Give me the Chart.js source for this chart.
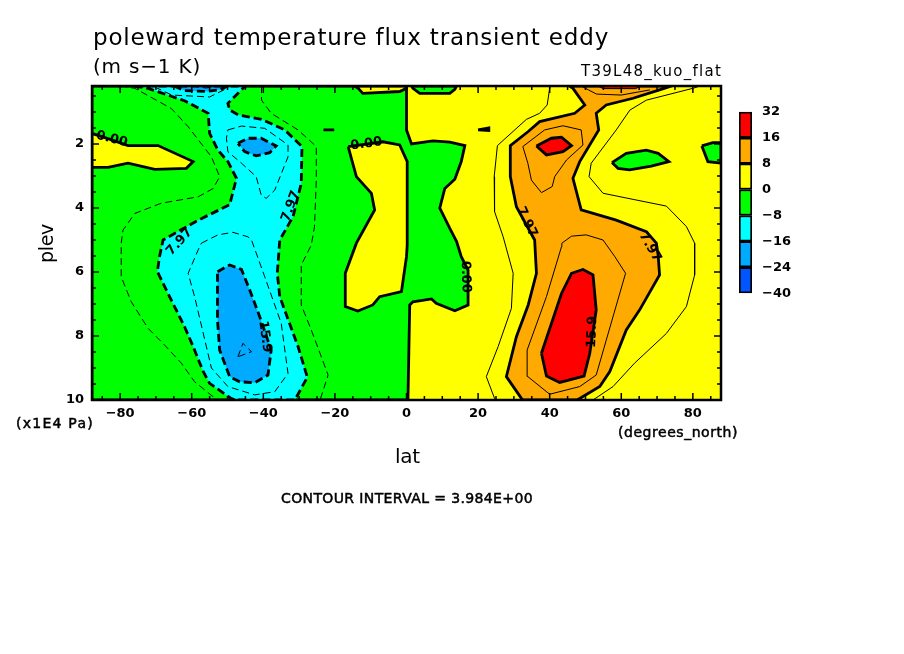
<!DOCTYPE html>
<html>
<head>
<meta charset="utf-8">
<title>poleward temperature flux transient eddy</title>
<script src="https://cdn.jsdelivr.net/npm/chart.js@4"></script>
<style>
    html, body { margin: 0; padding: 0; background: #fff; }
    #wrap { position: relative; width: 904px; height: 654px; overflow: hidden; }
    #mainChart { position: absolute; left: 0; top: 0; }
    #barChart { position: absolute; left: 730px; top: 94px; }
</style>
</head>
<body>
<div id="wrap">
    <canvas id="mainChart" width="904" height="654"></canvas>
    <canvas id="barChart" width="70" height="217"></canvas>
</div>
<script>
const latTicks = [-80, -60, -40, -20, 0, 20, 40, 60, 80];
const latMinor = [-85, -75, -70, -65, -55, -50, -45, -35, -30, -25, -15, -10, -5, 5, 10, 15, 25, 30, 35, 45, 50, 55, 65, 70, 75, 85];
const plevTicks = [2, 4, 6, 8, 10];
const plevMinor = [0.5, 1, 1.5, 2.5, 3, 3.5, 4.5, 5, 5.5, 6.5, 7, 7.5, 8.5, 9, 9.5];

const cbarLevels = [-40, -24, -16, -8, 0, 8, 16, 32];
const cbarColors = ['#0055ff', '#00aaff', '#00ffff', '#00ff00', '#ffff00', '#ffaa00', '#ff0000'];

// contours as [lat, plev]
const wholePlot = [[-87.86, 0.1875], [87.86, 0.1875], [87.86, 10], [-87.86, 10], [-87.86, 0.1875]];

const greenMain = [[0, 0.1875], [0, 1.56], [1.4, 2], [7.4, 1.9], [12.1, 1.94], [16.3, 2.05], [15.3, 2.55], [13.5, 3.1],
    [10.7, 3.39], [9.3, 4], [12.1, 4.64], [14, 5.05], [15.3, 5.52], [17.2, 5.94], [17.2, 7.03], [13.5, 7.21], [8.3, 6.98],
    [7, 6.84], [1.8, 6.93], [0.9, 7.03], [0.4, 10], [-87.86, 10], [-87.86, 0.1875], [0, 0.1875]];
const yellowLeft = [[-87.86, 1.67], [-83, 1.85], [-77.8, 2.05], [-69.4, 2.05], [-59.6, 2.55], [-61.5, 2.76], [-70.3, 2.79],
    [-77.8, 2.6], [-83.4, 2.73], [-87.86, 2.73], [-87.86, 1.67]];
const yellowIsland = [[-16.3, 2.08], [-6.6, 1.93], [-1.9, 2.03], [0.2, 2.55], [0.2, 5.16], [0, 5.52], [-1.4, 6.61], [-7.5, 6.77],
    [-9.4, 7.03], [-13.6, 7.22], [-17.1, 7.08], [-17.1, 6.04], [-14, 5.1], [-8.9, 4.06], [-9.8, 3.54], [-14, 3.02], [-16.3, 2.08]];
const yellowTop = [[-14.5, 0.1875], [-13.5, 0.26], [-12.2, 0.42], [-1.9, 0.36], [0, 0.26], [0, 0.1875], [-14.5, 0.1875]];
const yellowBlip = [[-23.2, 1.56], [-20.2, 1.56], [-23.2, 1.56]];

const dashLeft = [[-80, 0.1875], [-75.9, 0.26], [-65.7, 0.89], [-61, 1.46], [-54.5, 2.4], [-52.2, 3.02], [-54, 3.39], [-58.2, 3.65],
    [-68.5, 3.85], [-75.9, 4.17], [-79.2, 4.69], [-79.7, 5.1], [-79.7, 6.15], [-76.9, 6.93], [-72.2, 7.76], [-67.6, 8.28],
    [-62.9, 8.85], [-59.2, 9.43], [-54, 9.9], [-53, 10]];
const dashRight = [[-40.5, 0.1875], [-40.5, 0.63], [-37.8, 1.04], [-30.3, 1.56], [-25.2, 2.08], [-25.2, 3.13], [-25.7, 4.58],
    [-26.6, 5.16], [-29.4, 5.78], [-29.4, 7.03], [-26.6, 7.81], [-21.9, 9.22], [-24, 9.95], [-24.2, 10]];

const cyanMain = [[-76, 0.1875], [-72.2, 0.26], [-62, 0.65], [-55.4, 1.04], [-55, 1.67], [-52.7, 2.19], [-49.9, 2.55], [-47.5, 3.07],
    [-49.4, 3.9], [-58.2, 4.38], [-68, 5], [-69, 5.52], [-69.6, 5.99], [-65.7, 6.88], [-62, 7.71], [-59.6, 8.33], [-56.8, 9.11],
    [-55, 9.48], [-49, 9.95], [-48, 10], [-31.2, 10], [-27.7, 9.29], [-30.3, 8.33], [-35.4, 6.77], [-36.1, 6.04], [-35.4, 5],
    [-31.7, 4.27], [-29.4, 3.23], [-29.2, 2.08], [-34, 1.56], [-40.5, 1.23], [-47, 1.09], [-49.4, 0.94], [-49.9, 0.73],
    [-45.7, 0.26], [-45, 0.1875], [-76, 0.1875]];
const dashCyanUpper = [[-49.9, 1.56], [-46.1, 1.44], [-39.6, 1.51], [-33.1, 2.03], [-33.1, 2.4], [-36.8, 3.44], [-39.2, 3.7],
    [-40.6, 3.59], [-42, 3.02], [-46.1, 2.6], [-49.9, 2.24], [-50.3, 1.82], [-49.9, 1.56]];
const dashCyanLower = [[-57.3, 5.1], [-52.7, 4.84], [-48.5, 4.76], [-44.3, 4.9], [-43.3, 5], [-39.6, 6.15], [-35, 7.6], [-33.1, 9.17],
    [-36.8, 9.74], [-42.4, 9.84], [-49.9, 9.58], [-54.5, 9], [-59.2, 6.77], [-61, 6.04], [-58.2, 5.31], [-57.3, 5.1]];
const dashCyanTop = [[-70.3, 0.22], [-65.6, 0.47], [-55, 0.53], [-50.5, 0.28]];

const blueUpper = [[-47.1, 1.98], [-44.3, 1.82], [-40.6, 1.82], [-36.4, 2.06], [-38.2, 2.27], [-42, 2.37], [-45.2, 2.24], [-47.1, 1.98]];
const blueLower = [[-52.8, 5.99], [-49.4, 5.78], [-46.1, 5.92], [-43.8, 6.56], [-41, 7.4], [-37.8, 8.44], [-38.7, 9.22], [-42.4, 9.46],
    [-46.6, 9.43], [-49.4, 9.27], [-52.2, 8.44], [-52.8, 7.5], [-52.8, 5.99]];
const blueTop = [[-65, 0.1875], [-62, 0.33], [-56, 0.36], [-52, 0.3], [-50, 0.1875], [-65, 0.1875]];
const deepTop = [[-60, 0.1875], [-56, 0.25], [-52, 0.1875], [-60, 0.1875]];
const dashTriangle = [[-47.1, 8.65], [-45.7, 8.23], [-43.3, 8.49], [-47.1, 8.65]];

const lineRightA = [[40, 0.1875], [40, 0.26], [39.3, 0.78], [37.2, 1.04], [33.5, 1.23], [25.4, 2.05], [24.5, 3.02], [24.6, 4.11], [27, 4.9],
    [29.8, 6.04], [29.3, 7.14], [25.6, 8.33], [22.3, 9.27], [24.6, 9.95], [24.8, 10]];
const lineRightB = [[82, 0.1875], [80, 0.26], [67, 0.63], [62.4, 0.94], [58.6, 1.56], [51.6, 2.6], [51, 3.02], [54.9, 3.54], [63.3, 3.73],
    [72.6, 3.94], [78.2, 4.58], [80.5, 5.1], [80.5, 6.09], [78.2, 7.08], [72.6, 7.92], [63.7, 8.85], [57.7, 9.58], [52.1, 10]];

const orangeMain = [[45.5, 0.1875], [46.5, 0.26], [49.8, 0.78], [47, 1.04], [37.2, 1.3], [34, 1.61], [29, 2.05], [29, 3.02], [30.7, 3.96],
    [35.8, 5], [36.3, 6.04], [34, 7.03], [30.7, 8.02], [27.9, 9.27], [32.1, 9.95], [32.5, 10], [47.5, 10], [48.4, 9.95], [54, 9.58],
    [56.8, 9.11], [61.4, 7.81], [65.1, 7.19], [70.7, 6.09], [70.3, 5.47], [69.8, 5.1], [67, 4.74], [58.6, 4.38], [48.8, 4.06], [46.5, 3.07],
    [48.4, 2.55], [53.7, 1.56], [53, 1.04], [55.8, 0.78], [63.3, 0.57], [70.7, 0.31], [74, 0.1875], [45.5, 0.1875]];
const lineOrangeUpper = [[32.5, 2.08], [38.6, 1.56], [43.7, 1.43], [48.8, 1.56], [49.3, 2.03], [44.7, 2.5], [41.4, 3.02], [40.7, 3.33],
    [37.7, 3.52], [34.9, 3.13], [33.9, 2.6], [32.5, 2.08]];
const lineOrangeLower = [[43.4, 5.1], [46.1, 4.88], [50.2, 4.84], [54.9, 5], [58.2, 5.52], [61.2, 6.04], [55.8, 8.13], [53, 9.22],
    [48.4, 9.58], [40, 9.82], [33.9, 9.27], [33.7, 8.44], [39.1, 6.77], [43.3, 5.21], [43.4, 5.1]];
const lineOrangeTop = [[49.3, 0.22], [53.1, 0.44], [60, 0.47], [68, 0.31]];

const redUpper = [[36.3, 2.06], [40.5, 1.82], [43.3, 1.79], [46.1, 2.05], [43.7, 2.24], [39.1, 2.34], [36.3, 2.06]];
const redLower = [[37.7, 8.54], [43.3, 6.67], [46.1, 6.04], [49.3, 5.92], [52.1, 6.09], [53, 7.19], [51.2, 8.54], [49.6, 9.25],
    [42.8, 9.45], [39.1, 9.25], [37.7, 8.54]];
const redTop = [[53.4, 0.1875], [55, 0.27], [64, 0.27], [65.5, 0.1875], [53.4, 0.1875]];

const greenIslandA = [[57.4, 2.58], [61.4, 2.29], [67, 2.19], [70.3, 2.29], [73.3, 2.55], [68.4, 2.69], [62.3, 2.81], [59.1, 2.76], [57.4, 2.58]];
const greenIslandB = [[82.5, 2.06], [85.6, 1.96], [87.86, 1.96], [87.86, 2.6], [84.2, 2.55], [82.5, 2.06]];
const greenTop = [[1.4, 0.1875], [1.8, 0.26], [3.7, 0.42], [12.1, 0.42], [13.5, 0.29], [14, 0.1875], [1.4, 0.1875]];
const greenBlip = [[20, 1.56], [23, 1.5], [23, 1.58], [20, 1.56]];

const contourLabels = [
    { text: '0.00', lat: -82.3, plev: 1.85, angle: 14 },
    { text: '0.00', lat: -11.2, plev: 2.0, angle: -8 },
    { text: '7.97', lat: -63.4, plev: 5.06, angle: -48 },
    { text: '7.97', lat: -32.3, plev: 3.94, angle: -70 },
    { text: '15.9', lat: -39.6, plev: 8.02, angle: 82 },
    { text: '0.00', lat: 16.5, plev: 6.15, angle: 88 },
    { text: '7.97', lat: 33.6, plev: 4.44, angle: 65 },
    { text: '7.97', lat: 68, plev: 5.22, angle: 60 },
    { text: '15.9', lat: 51.9, plev: 7.87, angle: -88 }
];

const THICK = 2.8;
const THIN = 1;
const DASH_THICK = [8, 4];
const DASH_THIN = [7, 4];

function toPoints(pairs) {
    return pairs.map(p => ({ x: p[0], y: p[1] }));
}

function region(pairs, color, dash, width) {
    return {
        data: toPoints(pairs),
        showLine: true,
        fill: color ? 'shape' : false,
        backgroundColor: color || 'transparent',
        borderColor: width ? '#000' : 'transparent',
        borderWidth: width || 0,
        borderDash: dash || [],
        pointRadius: 0,
        tension: 0
    };
}

const layers = [
    region(wholePlot, '#ffff00'),
    region(greenMain, '#00ff00', null, THICK),
    region(yellowLeft, '#ffff00', null, THICK),
    region(yellowIsland, '#ffff00', null, THICK),
    region(yellowTop, '#ffff00', null, THICK),
    region(yellowBlip, null, null, THICK),
    region(dashLeft, null, DASH_THIN, THIN),
    region(dashRight, null, DASH_THIN, THIN),
    region(cyanMain, '#00ffff', DASH_THICK, THICK),
    region(dashCyanUpper, null, DASH_THIN, THIN),
    region(dashCyanLower, null, DASH_THIN, THIN),
    region(dashCyanTop, null, DASH_THIN, THIN),
    region(blueUpper, '#00aaff', DASH_THICK, THICK),
    region(blueLower, '#00aaff', DASH_THICK, THICK),
    region(blueTop, '#00aaff', DASH_THICK, THICK),
    region(deepTop, '#0055ff', DASH_THIN, THIN),
    region(dashTriangle, null, DASH_THIN, THIN),
    region(lineRightA, null, null, THIN),
    region(lineRightB, null, null, THIN),
    region(orangeMain, '#ffaa00', null, THICK),
    region(lineOrangeUpper, null, null, THIN),
    region(lineOrangeLower, null, null, THIN),
    region(lineOrangeTop, null, null, THIN),
    region(redUpper, '#ff0000', null, THICK),
    region(redLower, '#ff0000', null, THICK),
    region(redTop, '#ff0000', null, THIN),
    region(greenIslandA, '#00ff00', null, THICK),
    region(greenIslandB, '#00ff00', null, THICK),
    region(greenTop, '#00ff00', null, THICK),
    region(greenBlip, null, null, THICK)
];
// chart.js paints high order first
layers.forEach((d, i) => { d.order = layers.length - i; });

function minusSign(v) {
    return String(v).replace('-', '\u2212');
}

function drawText(ctx, text, x, y, size, width, heavy) {
    ctx.font = size + 'px "DejaVu Sans"';
    ctx.letterSpacing = '0px';
    if (width) {
        const extra = (width - ctx.measureText(text).width) / text.length;
        ctx.letterSpacing = extra.toFixed(2) + 'px';
    }
    ctx.fillText(text, x, y);
    if (heavy) {
        ctx.lineWidth = heavy;
        ctx.strokeStyle = '#000';
        ctx.strokeText(text, x, y);
    }
    ctx.letterSpacing = '0px';
}

const framePlugin = {
    id: 'frame',
    afterDatasetsDraw(chart) {
        const { ctx, chartArea: a, scales: { x, y } } = chart;
        ctx.save();
        ctx.strokeStyle = '#000';

        // ticks point inwards on all four sides
        const mark = (list, len) => {
            ctx.lineWidth = 1.5;
            ctx.beginPath();
            list.forEach(v => {
                const px = x.getPixelForValue(v);
                ctx.moveTo(px, a.bottom);
                ctx.lineTo(px, a.bottom - len);
                ctx.moveTo(px, a.top);
                ctx.lineTo(px, a.top + len);
            });
            ctx.stroke();
        };
        const markY = (list, len) => {
            ctx.lineWidth = 1.5;
            ctx.beginPath();
            list.forEach(v => {
                const py = y.getPixelForValue(v);
                ctx.moveTo(a.left, py);
                ctx.lineTo(a.left + len, py);
                ctx.moveTo(a.right, py);
                ctx.lineTo(a.right - len, py);
            });
            ctx.stroke();
        };
        mark(latTicks, 7);
        mark(latMinor, 4);
        markY(plevTicks, 7);
        markY(plevMinor, 4);

        ctx.lineWidth = 2.5;
        ctx.strokeRect(a.left, a.top, a.right - a.left, a.bottom - a.top);

        ctx.fillStyle = '#000';
        ctx.textAlign = 'center';
        ctx.textBaseline = 'middle';
        ctx.font = 'bold 13px "DejaVu Sans"';
        contourLabels.forEach(l => {
            ctx.save();
            ctx.translate(x.getPixelForValue(l.lat), y.getPixelForValue(l.plev));
            ctx.rotate(l.angle * Math.PI / 180);
            ctx.fillText(l.text, 0, 0);
            ctx.restore();
        });
        ctx.restore();
    },
    afterDraw(chart) {
        const ctx = chart.ctx;
        ctx.save();
        ctx.fillStyle = '#000';
        ctx.textAlign = 'left';
        ctx.textBaseline = 'alphabetic';
        drawText(ctx, 'poleward temperature flux transient eddy', 93, 45, 23, 516);
        drawText(ctx, '(m s\u22121 K)', 93, 73, 20, 108);
        drawText(ctx, 'T39L48_kuo_flat', 581, 76, 15, 141);
        drawText(ctx, '(x1E4 Pa)', 16, 428, 14, 78, 0.5);
        drawText(ctx, '(degrees_north)', 618, 437, 14, 120, 0.5);
        drawText(ctx, 'lat', 395, 463, 20, 25);
        drawText(ctx, 'CONTOUR INTERVAL = 3.984E+00', 281, 503, 14, 252, 0.5);
        ctx.translate(53, 263);
        ctx.rotate(-Math.PI / 2);
        drawText(ctx, 'plev', 0, 0, 19, 39);
        ctx.restore();
    }
};

new Chart(document.getElementById('mainChart'), {
    type: 'scatter',
    data: { datasets: layers },
    plugins: [framePlugin],
    options: {
        responsive: false,
        animation: false,
        layout: { padding: { left: 0, top: 86, right: 183, bottom: 224 } },
        plugins: { legend: { display: false }, tooltip: { enabled: false } },
        scales: {
            x: {
                type: 'linear',
                min: -87.86,
                max: 87.86,
                afterBuildTicks: s => { s.ticks = latTicks.map(v => ({ value: v })); },
                afterFit: s => { s.height = 30; },
                border: { display: false },
                grid: { display: false, drawTicks: false },
                ticks: {
                    padding: 6,
                    maxRotation: 0,
                    autoSkip: false,
                    color: '#000',
                    font: { family: 'DejaVu Sans', size: 13, weight: 'bold' },
                    callback: v => minusSign(v)
                }
            },
            y: {
                type: 'linear',
                reverse: true,
                min: 0.1875,
                max: 10,
                afterBuildTicks: s => { s.ticks = plevTicks.map(v => ({ value: v })); },
                afterFit: s => { s.width = 92; },
                border: { display: false },
                grid: { display: false, drawTicks: false },
                ticks: {
                    padding: 8,
                    autoSkip: false,
                    color: '#000',
                    font: { family: 'DejaVu Sans', size: 13, weight: 'bold' }
                }
            }
        }
    }
});

// colour key is its own small stacked bar chart
new Chart(document.getElementById('barChart'), {
    type: 'bar',
    data: {
        labels: [''],
        datasets: cbarColors.map((c, i) => ({
            data: [[i, i + 1]],
            backgroundColor: c,
            borderColor: '#000',
            borderWidth: 2,
            borderSkipped: false,
            barPercentage: 1,
            categoryPercentage: 1
        }))
    },
    options: {
        responsive: false,
        animation: false,
        layout: { padding: { left: 9, top: 0, right: 0, bottom: 0 } },
        plugins: { legend: { display: false }, tooltip: { enabled: false } },
        scales: {
            x: {
                stacked: true,
                display: false
            },
            y: {
                position: 'right',
                min: 0,
                max: cbarColors.length,
                afterBuildTicks: s => { s.ticks = cbarLevels.map((_, i) => ({ value: i })); },
                afterFit: s => { s.width = 48; },
                border: { display: false },
                grid: { display: false, drawTicks: false },
                ticks: {
                    padding: 10,
                    autoSkip: false,
                    color: '#000',
                    font: { family: 'DejaVu Sans', size: 13, weight: 'bold' },
                    callback: v => minusSign(cbarLevels[v])
                }
            }
        }
    }
});
</script>
</body>
</html>
